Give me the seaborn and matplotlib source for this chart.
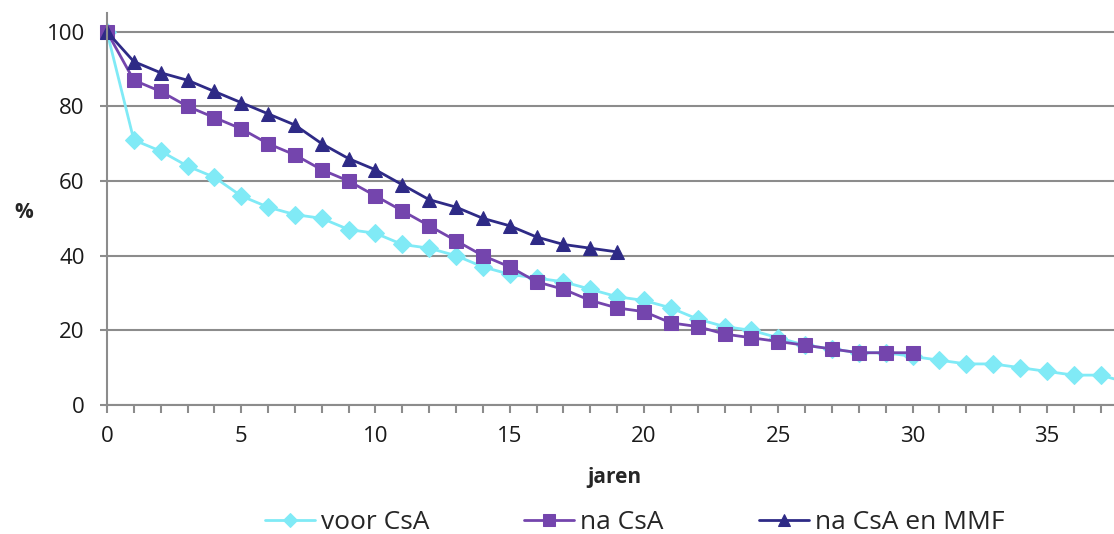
import matplotlib
matplotlib.use("Agg")
import matplotlib.pyplot as plt
import numpy as np
import pandas as pd
import seaborn as sns
from matplotlib.ticker import MultipleLocator

# Survival over years (percent) for three treatment eras
voor_csa = [100, 71, 68, 64, 61, 56, 53, 51, 50, 47, 46, 43, 42, 40, 37, 35, 34, 33,
            31, 29, 28, 26, 23, 21, 20, 18, 16, 15, 14, 14, 13, 12, 11, 11, 10, 9, 8, 8, 6]
na_csa = [100, 87, 84, 80, 77, 74, 70, 67, 63, 60, 56, 52, 48, 44, 40, 37, 33, 31,
          28, 26, 25, 22, 21, 19, 18, 17, 16, 15, 14, 14, 14]
na_csa_mmf = [100, 92, 89, 87, 84, 81, 78, 75, 70, 66, 63, 59, 55, 53, 50, 48, 45, 43,
              42, 41]

series_names = ["voor CsA", "na CsA", "na CsA en MMF"]
series_values = [voor_csa, na_csa, na_csa_mmf]
colors = ["#80EAF6", "#7445AD", "#2E2A86"]
markers = ["D", "s", "^"]
marker_sizes = [9.5, 10.5, 10.5]

frames = []
for name, vals in zip(series_names, series_values):
    frames.append(pd.DataFrame({"jaren": np.arange(len(vals)), "pct": vals, "reeks": name}))
df = pd.concat(frames, ignore_index=True)

sns.set_theme(style="white")
plt.rcParams["font.family"] = ["Open Sans", "DejaVu Sans"]

fig = plt.figure(figsize=(11.14, 5.34), dpi=100)
ax = fig.add_axes([0.096, 0.2416, 0.904, 0.734])

for name, col, mk, ms in zip(series_names, colors, markers, marker_sizes):
    sub = df[df["reeks"] == name]
    sns.lineplot(data=sub, x="jaren", y="pct", ax=ax, color=col, marker=mk,
                 markersize=ms, markeredgecolor=col, linewidth=2.0, label=name,
                 clip_on=(name == "voor CsA"))

ax.set_xlim(0, 37.5)
ax.set_ylim(0, 105)
ax.set_yticks([0, 20, 40, 60, 80, 100])
ax.xaxis.set_major_locator(MultipleLocator(5))
ax.xaxis.set_minor_locator(MultipleLocator(1))
ax.yaxis.grid(True, color="#8C8C8C", linewidth=1.5)
ax.xaxis.grid(False)
ax.set_axisbelow(True)

for side in ["top", "right"]:
    ax.spines[side].set_visible(False)
for side in ["left", "bottom"]:
    ax.spines[side].set_color("#8C8C8C")
    ax.spines[side].set_linewidth(1.5)

ax.tick_params(axis="both", which="both", direction="out", color="#8C8C8C",
               width=1.5, labelsize=16, labelcolor="#1a1a1a")
ax.tick_params(axis="x", which="both", bottom=True, length=6, pad=9)
ax.tick_params(axis="y", left=True, length=5, pad=11)

ax.set_xlabel("jaren", fontsize=15, fontweight="bold")
ax.xaxis.set_label_coords(0.504, -0.158)
ax.set_ylabel("%", fontsize=15, fontweight="bold", rotation=0, ha="center", va="center")
ax.yaxis.set_label_coords(-0.083, 0.492)

leg = ax.legend(loc="center", bbox_to_anchor=(0.524, -0.301), ncol=3, frameon=False,
                fontsize=19, handlelength=1.9, handletextpad=0.23, columnspacing=3.6,
                borderaxespad=0, borderpad=0, markerscale=0.8)

fig.savefig("out.png", dpi=100)
